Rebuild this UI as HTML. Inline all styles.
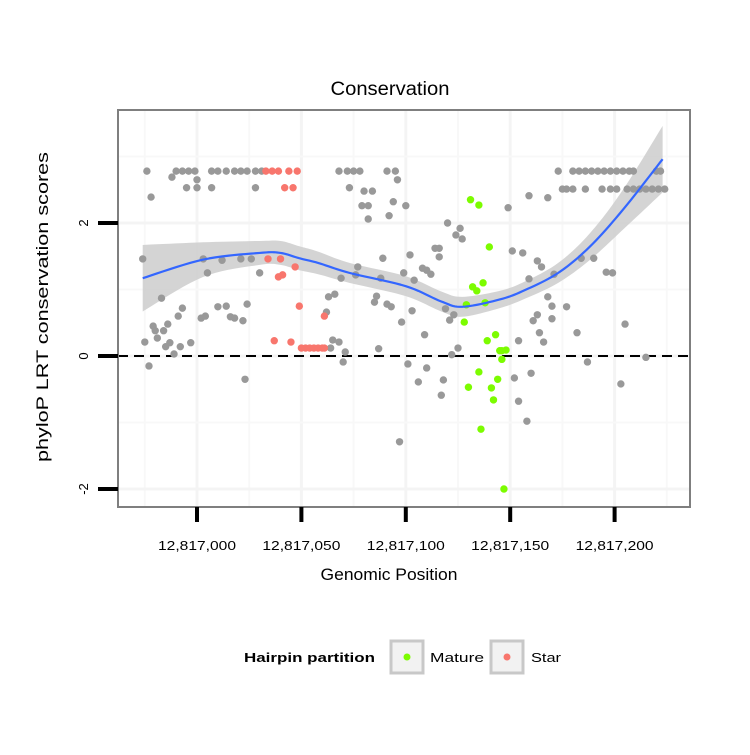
<!DOCTYPE html>
<html><head><meta charset="utf-8"><style>
body{margin:0;background:#fff}
svg text{font-family:"Liberation Sans",sans-serif}
</style></head><body>
<svg id="chart" width="750" height="750" viewBox="0 0 750 750" xmlns="http://www.w3.org/2000/svg">
<rect x="0" y="0" width="750" height="750" fill="#fff"/>
<text x="390" y="95" text-anchor="middle" font-size="19" textLength="119" lengthAdjust="spacingAndGlyphs">Conservation</text>
<g id="grid"></g>
<g id="ribbon"></g>
<g id="zero"></g>
<g id="points"></g>
<g id="smooth"></g>
<rect x="118" y="110" width="572" height="397" fill="none" stroke="#7f7f7f" stroke-width="2"/>
<g id="axes"></g>
<text x="389" y="580" text-anchor="middle" font-size="17" textLength="137" lengthAdjust="spacingAndGlyphs">Genomic Position</text>
<text transform="translate(48,307) rotate(-90)" text-anchor="middle" font-size="17" textLength="310" lengthAdjust="spacingAndGlyphs">phyloP LRT conservation scores</text>
<g>
<text x="244" y="662" font-size="13" font-weight="bold" textLength="131" lengthAdjust="spacingAndGlyphs">Hairpin partition</text>
<g>
<rect x="391" y="641" width="32" height="32" fill="#f2f2f2" stroke="#c8c8c8" stroke-width="3"/>
<circle cx="407" cy="657" r="3.5" fill="#7cfc00"/>
<text x="430" y="662" font-size="13" textLength="54" lengthAdjust="spacingAndGlyphs">Mature</text></g>
<g>
<rect x="491" y="641" width="32" height="32" fill="#f2f2f2" stroke="#c8c8c8" stroke-width="3"/>
<circle cx="507" cy="657" r="3.5" fill="#f8766d"/>
<text x="531" y="662" font-size="13" textLength="30" lengthAdjust="spacingAndGlyphs">Star</text></g>
</g>
</svg>
<script>
const BASE = 12817000;
const xTicks = [0, 50, 100, 150, 200];
const xTickLabels = ["12,817,000","12,817,050","12,817,100","12,817,150","12,817,200"];
const yTicks = [-2, 0, 2];
const yTickLabels = ["-2","0","2"];
const grayX = [-24,-12,-10,-7,-4,-1,0,-5,0,7,7,10,14,18,21,24,28,31,28,-22,-26,3,12,21,26,5,30,-17,-7,-9,10,14,16,18,22,24,2,4,-21,-14,-20,-16,-19,-13,-15,-8,-3,-25,-11,-23,23,
68,72,75,78,91,95,96,73,80,84,79,82,94,100,82,92,120,126,124,127,114,116,116,102,89,77,76,69,88,99,108,110,104,112,66,63,86,85,91,93,103,62,98,119,123,121,109,65,68,64,71,70,87,125,122,101,110,106,118,117,97,
173,180,183,186,189,192,195,198,201,204,207,209,220,222,175,177,180,186,194,198,201,206,209,212,215,218,221,224,159,168,149,151,156,163,165,159,171,184,190,196,199,168,170,177,163,161,170,164,166,182,154,205,187,215,160,152,154,203,158];
const grayY = [2.78,2.69,2.78,2.78,2.78,2.78,2.65,2.53,2.53,2.53,2.78,2.78,2.78,2.78,2.78,2.78,2.78,2.78,2.53,2.39,1.46,1.46,1.44,1.46,1.46,1.25,1.25,0.87,0.72,0.60,0.74,0.75,0.59,0.57,0.53,0.78,0.57,0.60,0.45,0.48,0.38,0.38,0.27,0.20,0.14,0.14,0.20,0.21,0.03,-0.15,-0.35,
2.78,2.78,2.78,2.78,2.78,2.78,2.65,2.53,2.48,2.48,2.26,2.26,2.32,2.26,2.06,2.11,2.00,1.92,1.82,1.76,1.62,1.62,1.49,1.52,1.47,1.34,1.22,1.17,1.17,1.25,1.32,1.29,1.14,1.23,0.93,0.89,0.90,0.81,0.78,0.74,0.68,0.66,0.51,0.71,0.62,0.54,0.32,0.24,0.21,0.12,0.06,-0.09,0.11,0.12,0.02,-0.12,-0.18,-0.39,-0.36,-0.59,-1.29,
2.78,2.78,2.78,2.78,2.78,2.78,2.78,2.78,2.78,2.78,2.78,2.78,2.78,2.78,2.51,2.51,2.51,2.51,2.51,2.51,2.51,2.51,2.51,2.51,2.51,2.51,2.51,2.51,2.41,2.38,2.23,1.58,1.55,1.43,1.34,1.16,1.23,1.47,1.47,1.26,1.25,0.89,0.75,0.74,0.62,0.53,0.56,0.35,0.21,0.35,0.23,0.48,-0.09,-0.02,-0.26,-0.33,-0.68,-0.42,-0.98];
const starX = [33,36,39,44,48,42,46,34,40,47,39,41,49,37,45,50,52,54,56,58,60,61,61];
const starY = [2.78,2.78,2.78,2.78,2.78,2.53,2.53,1.46,1.46,1.34,1.19,1.22,0.75,0.23,0.21,0.12,0.12,0.12,0.12,0.12,0.12,0.12,0.60];
const matureX = [131,135,140,132,134,137,129,138,128,143,139,145,146,148,146,135,130,141,144,142,136,147];
const matureY = [2.35,2.27,1.64,1.04,0.98,1.10,0.77,0.80,0.51,0.32,0.23,0.08,0.08,0.09,-0.05,-0.24,-0.47,-0.48,-0.35,-0.66,-1.10,-2.00];
const fitX = [-26,3,30,40,49,58,73,100,117,127,145,157,173,188,204,223];
const fitY = [1.17,1.45,1.55,1.55,1.47,1.40,1.25,1.05,0.82,0.74,0.85,0.99,1.25,1.64,2.20,2.96];
const fitSE = [0.50,0.26,0.18,0.18,0.18,0.17,0.15,0.15,0.15,0.15,0.13,0.13,0.15,0.20,0.30,0.50];

const xs = v => 197 + v * 2.088;
const ys = v => 356 - v * 66.5;
const NS = "http://www.w3.org/2000/svg";
function mk(tag, attrs, parent){const e=document.createElementNS(NS,tag);for(const k in attrs)e.setAttribute(k,attrs[k]);parent.appendChild(e);return e;}
// Catmull-Rom dense sampling
function dense(X,Y){const out=[];const n=X.length;
  for(let i=0;i<n-1;i++){const p0=i>0?i-1:i,p3=i+2<n?i+2:i+1;
    for(let s=0;s<10;s++){const t=s/10,t2=t*t,t3=t2*t;
      const f=(a,b,c,d)=>0.5*(2*b+(-a+c)*t+(2*a-5*b+4*c-d)*t2+(-a+3*b-3*c+d)*t3);
      out.push([f(X[p0],X[i],X[i+1],X[p3]),f(Y[p0],Y[i],Y[i+1],Y[p3])]);}}
  out.push([X[n-1],Y[n-1]]);return out;}
const grid=document.getElementById('grid');
for(let i=-1;i<xTicks.length;i++){
  const xm=xs(xTicks[Math.max(i,0)]+(i<0?-25:25));
  const l=mk('line',{x1:xm,x2:xm,y1:110,y2:507,stroke:'#f8f8f8','stroke-width':2},grid);
  
  
}
xTicks.forEach(t=>{const l=mk('line',{x1:xs(t),x2:xs(t),y1:110,y2:507,stroke:'#f4f4f4','stroke-width':3},grid);
  
  });
[-1,1,3].forEach(t=>{const l=mk('line',{x1:118,x2:690,y1:ys(t),y2:ys(t),stroke:'#f8f8f8','stroke-width':2},grid);
  
  });
yTicks.forEach(t=>{const l=mk('line',{x1:118,x2:690,y1:ys(t),y2:ys(t),stroke:'#f4f4f4','stroke-width':3},grid);
  
  });
const upY=fitY.map((y,i)=>y+fitSE[i]), dnY=fitY.map((y,i)=>y-fitSE[i]);
let up=dense(fitX,upY).map(p=>xs(p[0])+','+ys(p[1]));
let dn=dense(fitX,dnY).map(p=>xs(p[0])+','+ys(p[1])).reverse();
const rib=mk('polygon',{points:up.concat(dn).join(' '),fill:'#cccccc','fill-opacity':0.85},document.getElementById('ribbon'));


const z=mk('line',{x1:118,x2:690,y1:ys(0),y2:ys(0),stroke:'#000','stroke-width':2,'stroke-dasharray':'10,6'},document.getElementById('zero'));


const pts=document.getElementById('points');
function series(X,Y,col,name){X.forEach((x,i)=>{const c=mk('circle',{cx:xs(x),cy:ys(Y[i]),r:3.7,fill:col},pts);
  
  });}
series(grayX,grayY,'#999999','point-other');
series(starX,starY,'#f8766d','point-star');
series(matureX,matureY,'#7cfc00','point-mature');
const ln=mk('polyline',{points:dense(fitX,fitY).map(p=>xs(p[0])+','+ys(p[1])).join(' '),fill:'none',stroke:'#3366ff','stroke-width':2.2,'stroke-linejoin':'round'},document.getElementById('smooth'));


const ax=document.getElementById('axes');
xTicks.forEach((t,i)=>{
  const l=mk('line',{x1:xs(t),x2:xs(t),y1:507,y2:522,stroke:'#000','stroke-width':4},ax);
  
  
  const tx=mk('text',{x:xs(t),y:550,'text-anchor':'middle','font-size':13,textLength:78,lengthAdjust:'spacingAndGlyphs'},ax);
  tx.textContent=xTickLabels[i];
  
  
});
yTicks.forEach((t,i)=>{
  const l=mk('line',{x1:98,x2:118,y1:ys(t),y2:ys(t),stroke:'#000','stroke-width':4},ax);
  
  
  const tx=mk('text',{transform:'translate(88,'+ys(t)+') rotate(-90)','text-anchor':'middle','font-size':13},ax);
  tx.textContent=yTickLabels[i];
  
  
});
</script>
</body></html>
